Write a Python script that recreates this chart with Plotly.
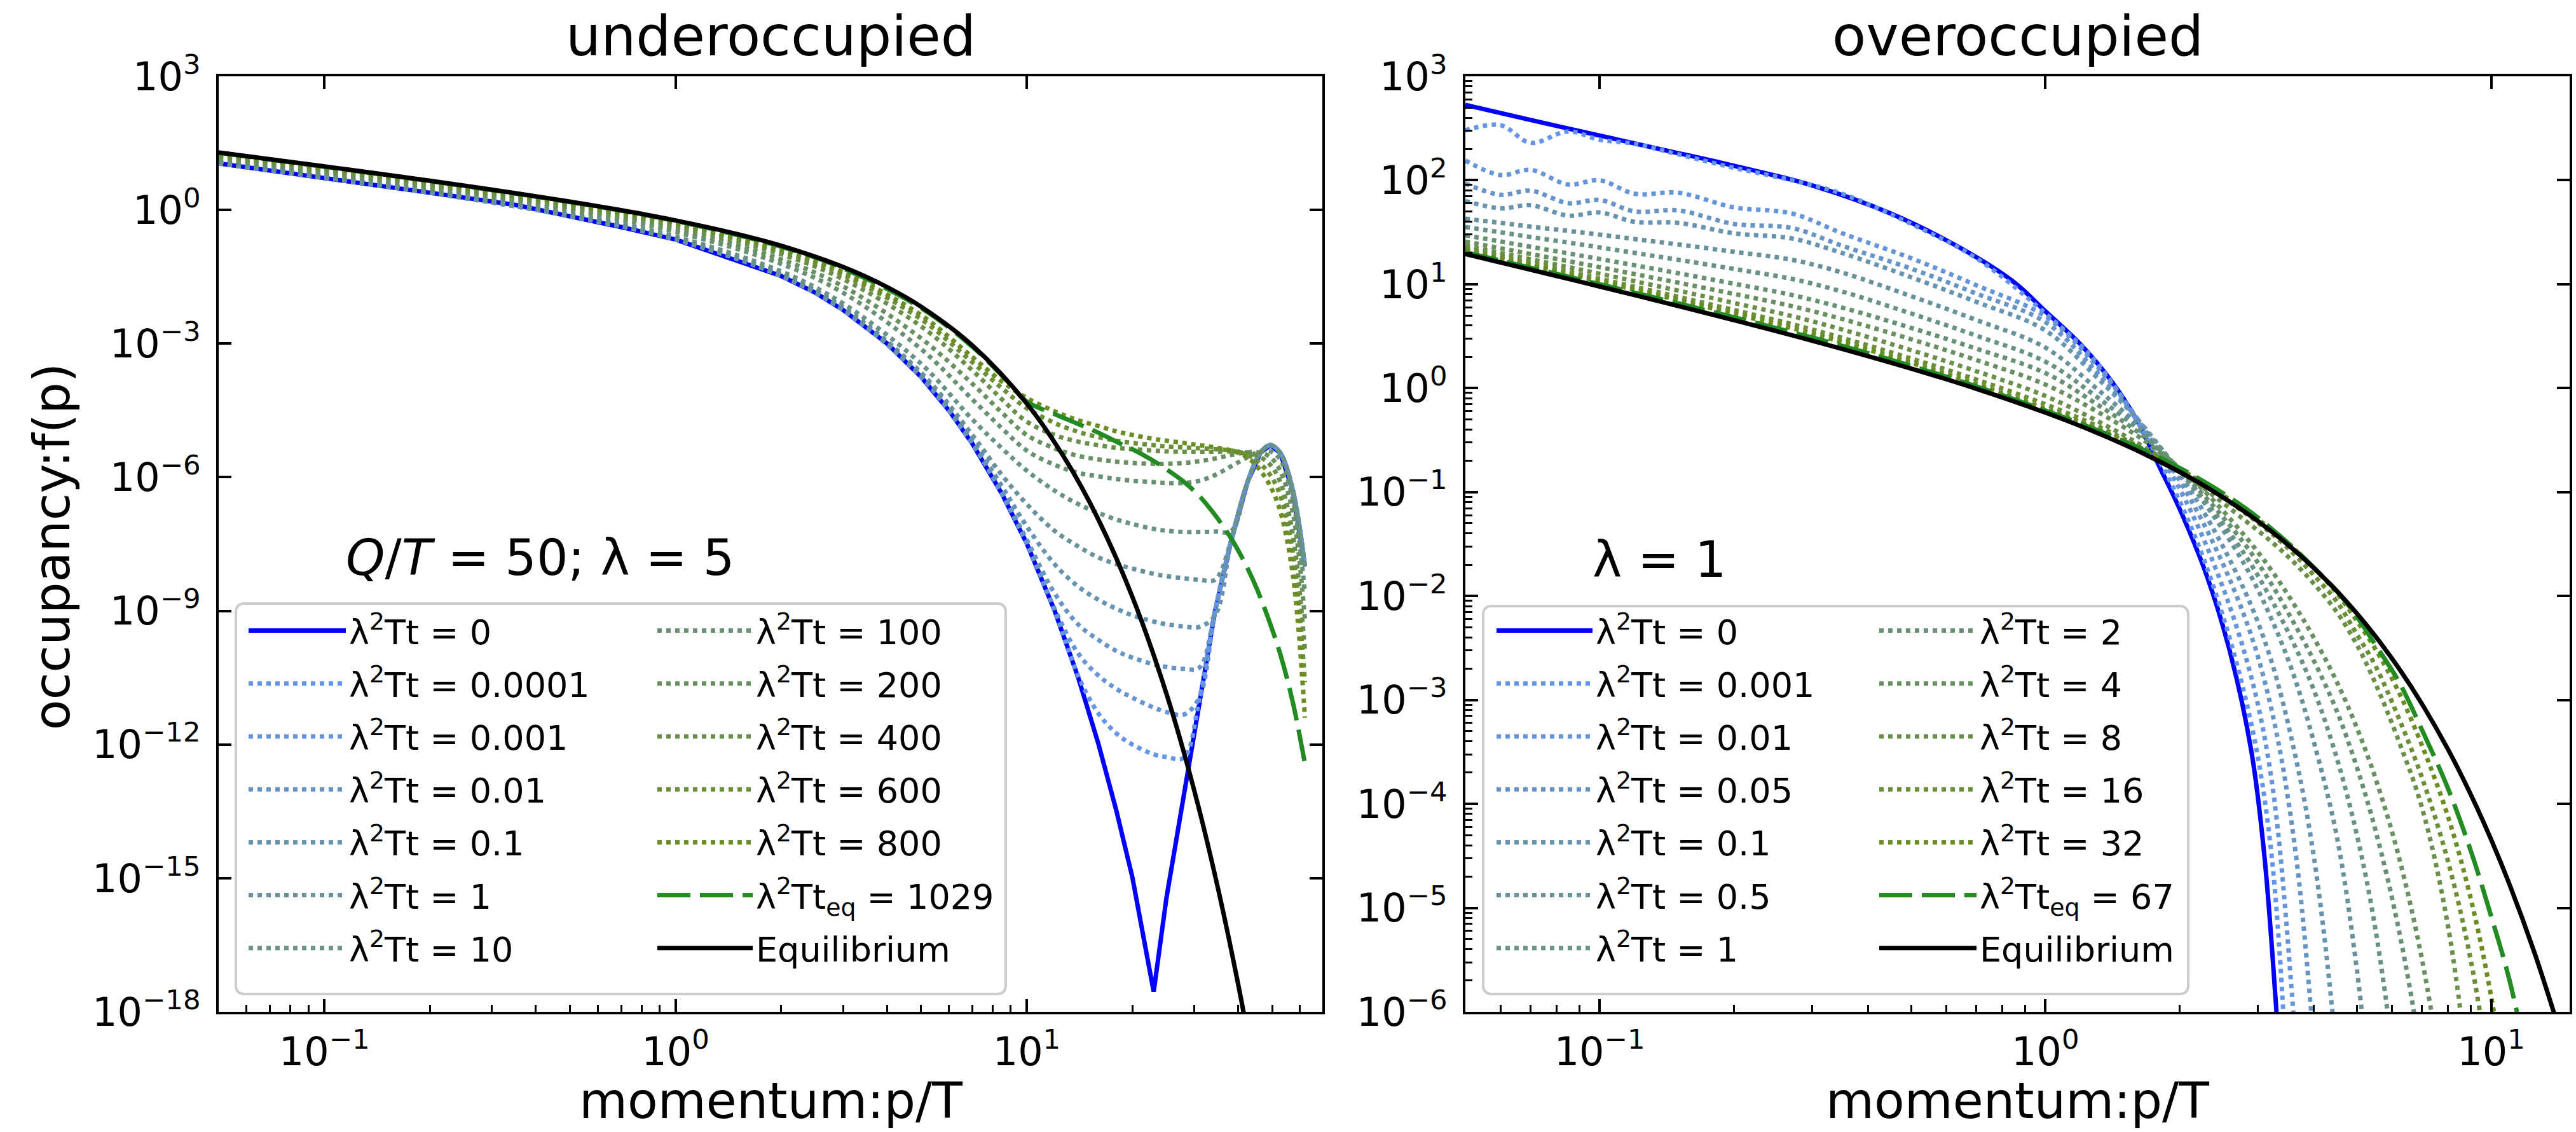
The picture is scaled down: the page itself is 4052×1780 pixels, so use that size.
import plotly.graph_objects as go

W, H = 4052, 1780
FONT = "DejaVu Sans"

# ===================== UNDEROCCUPIED PANEL (Q/T = 50, lambda = 5) =====================
# momentum grid p/T used for the evolving curves
p_under = [0.05, 0.1, 0.2, 0.5, 1, 2, 3, 5, 7, 8.5, 10, 12, 14, 16, 18, 20, 23,
           25, 28, 31, 34.4, 38.3, 42.6, 46.3, 49.4, 52.7, 57.3, 62]
# log10 of occupancy f(p)
p_under_t0 = [0.05, 0.1, 0.2, 0.35, 0.5, 0.7, 1, 1.4, 2, 2.5, 3, 4, 5, 6, 7, 8.5, 10, 12, 14, 16, 18, 20, 23,
              25, 28, 31, 34.4, 38.3, 42.6, 46.3, 49.4, 52.7, 57.3, 62]
under_t0 = [1.045, 0.725, 0.386, 0.113, -0.136, -0.384, -0.664, -1.063, -1.483, -1.857, -2.244, -2.996, -3.745,
            -4.495, -5.244, -6.37, -7.48, -8.986, -10.48, -11.98, -13.48, -14.98, -17.55, -15.45, -13.15, -11.0,
            -9.0, -7.4, -6.1, -5.45, -5.28, -5.45, -6.3, -8.0]
under_t00001 = [1.045, 0.725, 0.386, -0.136, -0.664, -1.483, -2.244, -3.745, -5.244, -6.37, -7.48, -8.98, -10.45,
                -11.3, -11.75, -12.0, -12.22, -12.28, -12.3, -11.0, -9.0, -7.4, -6.1, -5.45, -5.28, -5.45, -6.3, -8.0]
under_t0001 = [1.045, 0.725, 0.386, -0.136, -0.664, -1.483, -2.244, -3.745, -5.244, -6.37, -7.48, -8.95, -9.95,
               -10.45, -10.75, -10.95, -11.17, -11.27, -11.33, -10.95, -9.0, -7.4, -6.1, -5.45, -5.28, -5.45, -6.3, -8.0]
under_t001 = [1.047, 0.728, 0.389, -0.133, -0.66, -1.476, -2.234, -3.73, -5.22, -6.33, -7.4, -8.6, -9.3,
              -9.65, -9.9, -10.05, -10.2, -10.26, -10.3, -10.28, -9.0, -7.4, -6.1, -5.45, -5.28, -5.45, -6.3, -8.0]
under_t01 = [1.052, 0.733, 0.394, -0.126, -0.651, -1.463, -2.215, -3.70, -5.17, -6.2, -7.1, -7.95, -8.45,
             -8.75, -8.95, -9.1, -9.24, -9.3, -9.35, -9.36, -9.1, -7.4, -6.1, -5.45, -5.28, -5.45, -6.3, -8.0]
under_t1 = [1.06, 0.74, 0.402, -0.117, -0.638, -1.44, -2.186, -3.65, -5.05, -5.95, -6.6, -7.2, -7.55,
            -7.8, -7.95, -8.05, -8.17, -8.22, -8.27, -8.3, -8.3, -7.4, -6.1, -5.45, -5.28, -5.45, -6.3, -8.0]
under_t10 = [1.082, 0.763, 0.426, -0.087, -0.6, -1.38, -2.1, -3.45, -4.7, -5.35, -5.85, -6.3, -6.6,
             -6.8, -6.95, -7.05, -7.16, -7.2, -7.23, -7.23, -7.22, -7.2, -6.1, -5.45, -5.28, -5.45, -6.3, -8.0]
under_t100 = [1.143, 0.826, 0.494, -0.006, -0.492, -1.211, -1.859, -3.12, -4.25, -4.9, -5.4, -5.72, -5.9,
              -5.98, -6.04, -6.08, -6.11, -6.13, -6.13, -6.08, -5.95, -5.75, -5.55, -5.42, -5.42, -5.6, -6.5, -8.6]
under_t200 = [1.180, 0.864, 0.534, 0.042, -0.428, -1.110, -1.714, -2.88, -3.9, -4.55, -5.05, -5.35, -5.52,
              -5.6, -5.65, -5.68, -5.7, -5.7, -5.68, -5.64, -5.58, -5.5, -5.44, -5.45, -5.55, -5.85, -6.8, -9.2]
under_t400 = [1.221, 0.907, 0.580, 0.097, -0.355, -0.994, -1.551, -2.61, -3.6, -4.25, -4.75, -5.05, -5.2,
              -5.28, -5.34, -5.37, -5.4, -5.42, -5.43, -5.43, -5.43, -5.42, -5.45, -5.55, -5.72, -6.1, -7.3, -9.9]
under_t600 = [1.246, 0.932, 0.607, 0.130, -0.312, -0.926, -1.454, -2.45, -3.42, -4.0, -4.45, -4.78, -4.98,
              -5.1, -5.18, -5.23, -5.28, -5.31, -5.33, -5.35, -5.37, -5.4, -5.5, -5.7, -5.95, -6.4, -7.7, -10.6]
under_t800 = [1.261, 0.948, 0.623, 0.149, -0.286, -0.885, -1.397, -2.358, -3.3, -3.85, -4.22, -4.52, -4.72,
              -4.85, -4.97, -5.05, -5.14, -5.18, -5.23, -5.28, -5.33, -5.4, -5.56, -5.85, -6.2, -6.75, -8.2, -11.4]
p_under_teq = [0.05, 0.1, 0.2, 0.5, 1, 2, 3, 5, 7, 8.8, 10, 12, 13.5, 16, 18.2, 20, 22.5, 25, 27.8, 31,
               34.4, 37, 39.1, 42.6, 45.5, 48.4, 52.7, 57.3, 61.8]
under_teq = [1.283, 0.970, 0.647, 0.178, -0.248, -0.824, -1.31, -2.2, -3.07, -3.84, -4.3, -4.58, -4.75, -5.0,
             -5.22, -5.37, -5.59, -5.82, -6.08, -6.42, -6.85, -7.2, -7.5, -8.05, -8.55, -9.1, -9.96, -11.06, -12.37]
p_under_eq = [0.05, 0.1, 0.2, 0.3, 0.5, 0.7, 1, 1.5, 2, 3, 4, 5, 7, 10, 13, 16, 20, 25, 30, 35, 40, 44]
under_eq = [1.290, 0.978, 0.655, 0.456, 0.188, -0.006, -0.235, -0.542, -0.804, -1.281, -1.729, -2.169, -3.040,
            -4.343, -5.646, -6.949, -8.686, -10.857, -13.029, -15.201, -17.372, -19.109]

under_dotted = [under_t00001, under_t0001, under_t001, under_t01, under_t1, under_t10,
                under_t100, under_t200, under_t400, under_t600, under_t800]
under_times = ["0.0001", "0.001", "0.01", "0.1", "1", "10", "100", "200", "400", "600", "800"]
under_teq_value = "1029"

# ===================== OVEROCCUPIED PANEL (lambda = 1) =====================
p_over = [0.05, 0.06, 0.07, 0.085, 0.1, 0.12, 0.15, 0.2, 0.27, 0.35, 0.5, 0.7, 1.0, 1.3, 1.7, 2.2, 2.8,
          3.2, 3.6, 4.0, 4.5, 5.0, 5.5, 6.2, 7.0, 8.0, 9.0, 10.0, 11.0, 12.5, 14.0]
p_over_t0 = [0.05, 0.07, 0.1, 0.14, 0.2, 0.3, 0.45, 0.65, 0.85, 1.0, 1.2, 1.4, 1.6, 1.8, 2.0, 2.3, 2.6,
             2.9, 3.1, 3.3, 3.45]
over_t0 = [2.725, 2.58, 2.43, 2.29, 2.14, 1.95, 1.68, 1.34, 1.02, 0.74, 0.42, 0.08, -0.3, -0.75, -1.16, -1.8,
           -2.55, -3.5, -4.5, -6.0, -7.2]
over_t0001 = [2.48, 2.53, 2.36, 2.47, 2.39, 2.35, 2.25, 2.12, 2.0, 1.87, 1.58, 1.25, 0.72, 0.25, -0.5, -1.5,
              -2.95, -4.4, -8.0]
over_t001 = [2.19, 2.05, 2.10, 1.96, 2.00, 1.87, 1.88, 1.74, 1.68, 1.49, 1.25, 0.99, 0.69, 0.22, -0.45, -1.33,
             -2.55, -3.7, -6.0, -9.0]
over_t005 = [1.97, 1.86, 1.90, 1.78, 1.81, 1.70, 1.71, 1.58, 1.54, 1.37, 1.15, 0.91, 0.635, 0.16, -0.43, -1.2,
             -2.2, -3.05, -4.3, -6.3, -9.5]
over_t01 = [1.80, 1.73, 1.76, 1.66, 1.69, 1.60, 1.59, 1.49, 1.44, 1.30, 1.067, 0.83, 0.555, 0.11, -0.42, -1.1,
            -1.95, -2.6, -3.45, -4.5, -6.4, -9.0]
over_t05 = [1.630, 1.590, 1.554, 1.513, 1.477, 1.434, 1.383, 1.312, 1.235, 1.112, 0.885, 0.656, 0.390, 0.0,
            -0.45, -1.02, -1.7, -2.2, -2.75, -3.4, -4.3, -5.6, -7.3]
over_t1 = [1.550, 1.499, 1.454, 1.401, 1.354, 1.301, 1.235, 1.147, 1.051, 0.929, 0.718, 0.505, 0.255, -0.08,
           -0.48, -1.0, -1.6, -2.02, -2.45, -2.9, -3.55, -4.3, -5.2, -6.8]
over_t2 = [1.470, 1.411, 1.360, 1.297, 1.243, 1.182, 1.106, 1.005, 0.896, 0.775, 0.580, 0.380, 0.145, -0.15,
           -0.5, -0.97, -1.5, -1.87, -2.25, -2.62, -3.1, -3.65, -4.25, -5.2, -6.5, -8.5]
over_t4 = [1.410, 1.346, 1.291, 1.222, 1.164, 1.097, 1.015, 0.907, 0.789, 0.665, 0.470, 0.270, 0.035, -0.22,
           -0.53, -0.93, -1.42, -1.74, -2.07, -2.4, -2.82, -3.27, -3.75, -4.5, -5.5, -7.0]
over_t8 = [1.370, 1.300, 1.240, 1.165, 1.101, 1.028, 0.939, 0.820, 0.693, 0.564, 0.365, 0.163, -0.075, -0.31,
           -0.59, -0.92, -1.27, -1.47, -1.67, -1.88, -2.15, -2.47, -2.84, -3.39, -4.04, -5.17, -6.8]
over_t16 = [1.343, 1.268, 1.203, 1.122, 1.053, 0.975, 0.879, 0.752, 0.616, 0.484, 0.285, 0.083, -0.155, -0.36,
            -0.61, -0.89, -1.2, -1.39, -1.59, -1.8, -2.05, -2.37, -2.67, -3.17, -3.75, -4.55, -5.5, -6.7]
over_t32 = [1.324, 1.247, 1.180, 1.097, 1.026, 0.946, 0.847, 0.717, 0.577, 0.444, 0.243, 0.039, -0.200, -0.39,
            -0.62, -0.88, -1.17, -1.355, -1.54, -1.73, -1.97, -2.24, -2.51, -2.92, -3.44, -4.12, -4.91, -5.85, -7.0]
over_teq = [1.307, 1.227, 1.159, 1.073, 1.000, 0.917, 0.816, 0.682, 0.538, 0.407, 0.214, 0.017, -0.215, -0.40,
            -0.615, -0.865, -1.15, -1.345, -1.535, -1.725, -1.949, -2.2, -2.47, -2.82, -3.29, -3.85, -4.45,
            -5.08, -5.7, -6.8]
over_eq = [1.290, 1.209, 1.140, 1.052, 0.978, 0.894, 0.791, 0.655, 0.509, 0.378, 0.188, -0.006, -0.235, -0.426,
           -0.651, -0.904, -1.189, -1.372, -1.551, -1.729, -1.949, -2.169, -2.387, -2.692, -3.040, -3.474,
           -3.909, -4.343, -4.777, -5.428, -6.080]

over_dotted = [over_t0001, over_t001, over_t005, over_t01, over_t05, over_t1,
               over_t2, over_t4, over_t8, over_t16, over_t32]
over_times = ["0.001", "0.01", "0.05", "0.1", "0.5", "1", "2", "4", "8", "16", "32"]
over_teq_value = "67"

# tick labels
x_tickvals = [0.1, 1, 10]
x_ticktext = ["10<sup>\u22121</sup>", "10<sup>0</sup>", "10<sup>1</sup>"]
under_y_tickvals = [1e3, 1e0, 1e-3, 1e-6, 1e-9, 1e-12, 1e-15, 1e-18]
under_y_ticktext = ["10<sup>3</sup>", "10<sup>0</sup>", "10<sup>\u22123</sup>", "10<sup>\u22126</sup>",
                    "10<sup>\u22129</sup>", "10<sup>\u221212</sup>", "10<sup>\u221215</sup>", "10<sup>\u221218</sup>"]
over_y_tickvals = [1e3, 1e2, 1e1, 1e0, 1e-1, 1e-2, 1e-3, 1e-4, 1e-5, 1e-6]
over_y_ticktext = ["10<sup>3</sup>", "10<sup>2</sup>", "10<sup>1</sup>", "10<sup>0</sup>", "10<sup>\u22121</sup>",
                   "10<sup>\u22122</sup>", "10<sup>\u22123</sup>", "10<sup>\u22124</sup>", "10<sup>\u22125</sup>",
                   "10<sup>\u22126</sup>"]

# ===================== styles =====================
gradient = ["#6495ED", "#6594D9", "#6594C5", "#6693B0", "#67929C", "#689288",
            "#689174", "#699060", "#6A8F4B", "#6A8F37", "#6B8E23"]
LW = 7
DASH_EQ = "52px,15px"

fig = go.Figure()


def lin(vals):
    return [10 ** v for v in vals]


def add_curve(xs, logs, name, color, dash, legend, xa, ya, shape="spline"):
    fig.add_trace(go.Scatter(
        x=xs[:len(logs)], y=lin(logs), mode="lines", name=name,
        line=dict(color=color, width=LW, dash=dash, shape=shape, smoothing=1.0),
        legend=legend, legendgroup=legend + name, xaxis=xa, yaxis=ya, hoverinfo="skip"))


def lab(t):
    return "\u03bb<sup>2</sup>Tt = " + t


# ---- left panel traces ----
add_curve(p_under_t0, under_t0, lab("0"), "#0000FF", "solid", "legend", "x", "y", shape="linear")
for i, (vals, t) in enumerate(zip(under_dotted, under_times)):
    add_curve(p_under, vals, lab(t), gradient[i], "dot", "legend" if i < 6 else "legend2", "x", "y")
add_curve(p_under_teq, under_teq, "\u03bb<sup>2</sup>Tt<sub>eq</sub> = " + under_teq_value, "#228B22",
          DASH_EQ, "legend2", "x", "y")
add_curve(p_under_eq, under_eq, "Equilibrium", "#000000", "solid", "legend2", "x", "y")

# ---- right panel traces ----
add_curve(p_over_t0, over_t0, lab("0"), "#0000FF", "solid", "legend3", "x2", "y2")
for i, (vals, t) in enumerate(zip(over_dotted, over_times)):
    add_curve(p_over, vals, lab(t), gradient[i], "dot", "legend3" if i < 6 else "legend4", "x2", "y2")
add_curve(p_over, over_teq, "\u03bb<sup>2</sup>Tt<sub>eq</sub> = " + over_teq_value, "#228B22",
          DASH_EQ, "legend4", "x2", "y2")
add_curve(p_over, over_eq, "Equilibrium", "#000000", "solid", "legend4", "x2", "y2")

# empty helper traces so the mirrored tick axes are instantiated
for xa, ya in (("x3", "y3"), ("x4", "y4")):
    fig.add_trace(go.Scatter(x=[], y=[], xaxis=xa, yaxis=ya, showlegend=False, hoverinfo="skip"))

# ===================== layout =====================
L_X0, L_X1 = 344, 2080
R_X0, R_X1 = 2305, 4042
P_Y0, P_Y1 = 120, 1591
ydom = [1 - P_Y1 / H, 1 - P_Y0 / H]

under_xrange = [-1.30103, 1.842]
over_xrange = [-1.30103, 1.1761]

minor_x = [d * 10 ** e for e in (-2, -1, 0, 1) for d in range(2, 10)]
minor_y_over = [d * 10 ** e for e in range(-6, 3) for d in range(2, 10)]

tickfont = dict(family=FONT, size=62, color="black")
common = dict(type="log", showgrid=False, zeroline=False, ticks="inside", ticklen=20, tickwidth=4,
              tickcolor="black", tickfont=tickfont, automargin=False)
minor_common = dict(ticks="inside", ticklen=11, tickwidth=3, tickcolor="black", tickmode="array", showgrid=False)

fig.update_layout(
    width=W, height=H, margin=dict(l=0, r=0, t=0, b=0, pad=0, autoexpand=False),
    paper_bgcolor="white", plot_bgcolor="white", font=dict(family=FONT, color="black"),
    showlegend=True,
    xaxis=dict(domain=[L_X0 / W, L_X1 / W], range=under_xrange, anchor="y", showline=True, linewidth=4,
               linecolor="black", mirror=True, tickmode="array", tickvals=x_tickvals, ticktext=x_ticktext,
               ticklabelstandoff=6, minor=dict(tickvals=minor_x, **minor_common), **common),
    yaxis=dict(domain=ydom, range=[-18, 3], anchor="x", showline=True, linewidth=4, linecolor="black",
               mirror=True, tickmode="array", tickvals=under_y_tickvals, ticktext=under_y_ticktext,
               ticklabelstandoff=12, **common),
    xaxis2=dict(domain=[R_X0 / W, R_X1 / W], range=over_xrange, anchor="y2", showline=True, linewidth=4,
                linecolor="black", mirror=True, tickmode="array", tickvals=x_tickvals, ticktext=x_ticktext,
                ticklabelstandoff=6, minor=dict(tickvals=minor_x, **minor_common), **common),
    yaxis2=dict(domain=ydom, range=[-6, 3], anchor="x2", showline=True, linewidth=4, linecolor="black",
                mirror=True, tickmode="array", tickvals=over_y_tickvals, ticktext=over_y_ticktext,
                ticklabelstandoff=12, minor=dict(tickvals=minor_y_over, **minor_common), **common),
    # mirrored major ticks (top / right)
    xaxis3=dict(overlaying="x", anchor="y", side="top", range=under_xrange, tickmode="array",
                tickvals=x_tickvals, showticklabels=False, **common),
    yaxis3=dict(overlaying="y", anchor="x", side="right", range=[-18, 3], tickmode="array",
                tickvals=under_y_tickvals, showticklabels=False, **common),
    xaxis4=dict(overlaying="x2", anchor="y2", side="top", range=over_xrange, tickmode="array",
                tickvals=x_tickvals, showticklabels=False, **common),
    yaxis4=dict(overlaying="y2", anchor="x2", side="right", range=[-6, 3], tickmode="array",
                tickvals=over_y_tickvals, showticklabels=False, **common),
)

legend_common = dict(xanchor="left", yanchor="top", bgcolor="rgba(0,0,0,0)", borderwidth=0,
                     font=dict(family=FONT, size=54, color="black"), traceorder="grouped",
                     tracegroupgap=10, orientation="v", xref="container", yref="container")
LEG_TOP = 1 - 950 / H
fig.update_layout(
    legend=dict(x=386 / W, y=LEG_TOP, itemwidth=153, **legend_common),
    legend2=dict(x=1029 / W, y=LEG_TOP, itemwidth=150, **legend_common),
    legend3=dict(x=2349 / W, y=LEG_TOP, itemwidth=151, **legend_common),
    legend4=dict(x=2951 / W, y=LEG_TOP, itemwidth=153, **legend_common),
)


def box_path(x0, y0, x1, y1, r):
    X = lambda v: v / W
    Y = lambda v: 1 - v / H
    return (f"M{X(x0 + r)},{Y(y0)} L{X(x1 - r)},{Y(y0)} Q{X(x1)},{Y(y0)} {X(x1)},{Y(y0 + r)} "
            f"L{X(x1)},{Y(y1 - r)} Q{X(x1)},{Y(y1)} {X(x1 - r)},{Y(y1)} L{X(x0 + r)},{Y(y1)} "
            f"Q{X(x0)},{Y(y1)} {X(x0)},{Y(y1 - r)} L{X(x0)},{Y(y0 + r)} Q{X(x0)},{Y(y0)} {X(x0 + r)},{Y(y0)} Z")


for bx in ((371, 949, 1582, 1563), (2333, 953, 3442, 1563)):
    fig.add_shape(type="path", xref="paper", yref="paper", path=box_path(*bx, 14),
                  line=dict(color="#cccccc", width=4), fillcolor="white", layer="above")

ann = []


def text(s, x, y, size, xanchor="center", yanchor="middle", angle=0):
    ann.append(dict(text=s, x=x / W, y=1 - y / H, xref="paper", yref="paper", showarrow=False,
                    xanchor=xanchor, yanchor=yanchor, textangle=angle,
                    font=dict(family=FONT, size=size, color="black")))


text("underoccupied", (L_X0 + L_X1) / 2, 57, 87)
text("overoccupied", (R_X0 + R_X1) / 2, 57, 87)
text("momentum:p/T", (L_X0 + L_X1) / 2, 1731, 78)
text("momentum:p/T", (R_X0 + R_X1) / 2, 1731, 78)
text("occupancy:f(p)", 82, 860, 78, angle=-90)
text("<i>Q</i>/<i>T</i> = 50; \u03bb = 5", 542, 877, 78, xanchor="left")
text("\u03bb = 1", 2503, 880, 78, xanchor="left")
fig.update_layout(annotations=ann)

fig.write_html("out.html")
